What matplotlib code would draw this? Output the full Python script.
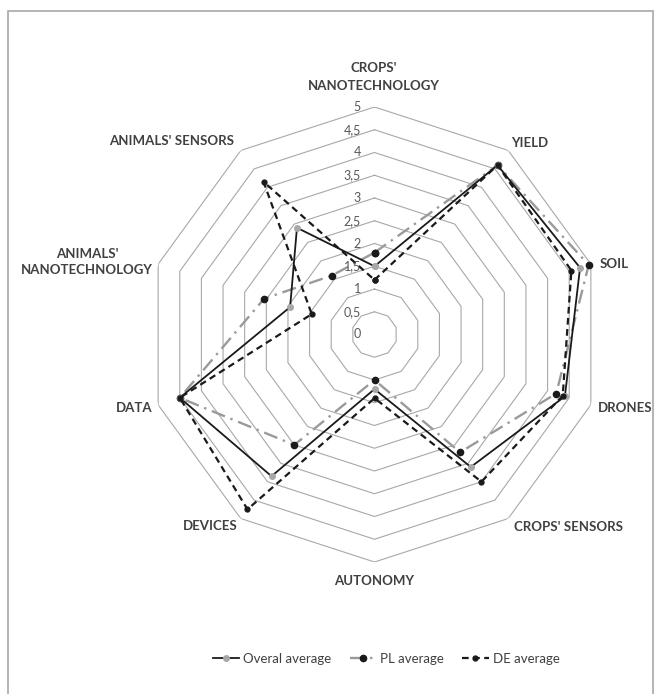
import numpy as np
import matplotlib.pyplot as plt
from matplotlib.patches import Rectangle

# axes clockwise from the top
categories = ["CROPS'\nNANOTECHNOLOGY", "YIELD", "SOIL", "DRONES", "CROPS' SENSORS",
              "AUTONOMY", "DEVICES", "DATA", "ANIMALS'\nNANOTECHNOLOGY", "ANIMALS' SENSORS"]
overal_avg = [1.5, 4.6, 4.75, 4.4, 3.6, 1.2, 3.85, 4.5, 1.95, 2.9]
pl_avg = [1.8, 4.6, 4.95, 4.2, 3.2, 1.0, 3.0, 4.5, 2.55, 1.6]
de_avg = [1.2, 4.6, 4.55, 4.35, 4.0, 1.4, 4.75, 4.5, 1.45, 4.15]
ring_values = [0.5, 1, 1.5, 2, 2.5, 3, 3.5, 4, 4.5, 5]
tick_values = [0, 0.5, 1, 1.5, 2, 2.5, 3, 3.5, 4, 4.5, 5]
tick_labels = ["0", "0,5", "1", "1,5", "2", "2,5", "3", "3,5", "4", "4,5", "5"]

# label centres in pixels (x, y from top)
label_pos = [(374, 77), (530, 143), (614, 264), (625, 408), (568, 527),
             (374, 581), (210, 526), (134, 408), (87, 262), (172, 141)]

W, H = 654, 694
fig = plt.figure(figsize=(W / 100, H / 100), dpi=100)
fig.patch.set_facecolor("white")

# chart centre ~ (374.5, 334.5) px, radius of 5 ~ 227.5 px
cx, cy, R = 374.5, 334.5, 227.5
ax = fig.add_axes([(cx - R) / W, 1 - (cy + R) / H, 2 * R / W, 2 * R / H], projection="polar")
ax.set_theta_offset(np.pi / 2)
ax.set_theta_direction(-1)
ax.set_ylim(0, 5)
ax.grid(False)
ax.spines["polar"].set_visible(False)
ax.set_xticks([])
ax.set_yticks([])
ax.patch.set_alpha(0)

n = len(categories)
theta = np.linspace(0, 2 * np.pi, n, endpoint=False)
theta_c = np.append(theta, theta[0])

def closed(vals):
    return np.append(vals, vals[0])

# grid rings (decagons)
for rv in ring_values:
    ax.plot(theta_c, [rv] * (n + 1), color="#a8a8a8", lw=0.8, zorder=1)

# scale labels, just left of the top axis
for tv, tl in zip(tick_values, tick_labels):
    fig.text(361 / W, 1 - (cy - tv * R / 5) / H, tl, ha="right", va="center",
             fontsize=9, color="#595959", family="Lato")

# series
ax.plot(theta_c, closed(pl_avg), color="#9a9a9a", lw=1.7, dashes=(6, 2.5, 1, 2.5),
        marker="o", ms=4.5, mfc="#1a1a1a", mec="#1a1a1a", zorder=3, clip_on=False,
        label="PL average")
ax.plot(theta_c, closed(overal_avg), color="#1a1a1a", lw=1.3, marker="o", ms=4,
        mfc="#a8a8a8", mec="#a8a8a8", zorder=4, clip_on=False, label="Overal average")
ax.plot(theta_c, closed(de_avg), color="#1a1a1a", lw=1.6, dashes=(3, 2),
        marker="o", ms=3.5, mfc="#1a1a1a", mec="#1a1a1a", zorder=5, clip_on=False,
        label="DE average")

for cat, (px, py) in zip(categories, label_pos):
    fig.text(px / W, 1 - py / H, cat, ha="center", va="center", fontsize=9.5,
             fontweight="bold", color="#404040", family="Lato", linespacing=1.5)

handles, labels = ax.get_legend_handles_labels()
order = [1, 0, 2]
fig.legend([handles[i] for i in order], [labels[i] for i in order],
           loc="center", bbox_to_anchor=(386 / W, 1 - 659 / H), ncol=3, frameon=False,
           handlelength=2.0, handletextpad=0.3, columnspacing=1.4,
           prop={"family": "Lato", "size": 9.5}, labelcolor="#404040")

# light grey frame around the picture
fig.patches.append(Rectangle((8 / W, -0.05), (W - 9) / W, 1 - 11 / H + 0.05,
                             transform=fig.transFigure, fill=False,
                             edgecolor="#a8a8a8", lw=1.2))

fig.savefig("out.png", dpi=100)
